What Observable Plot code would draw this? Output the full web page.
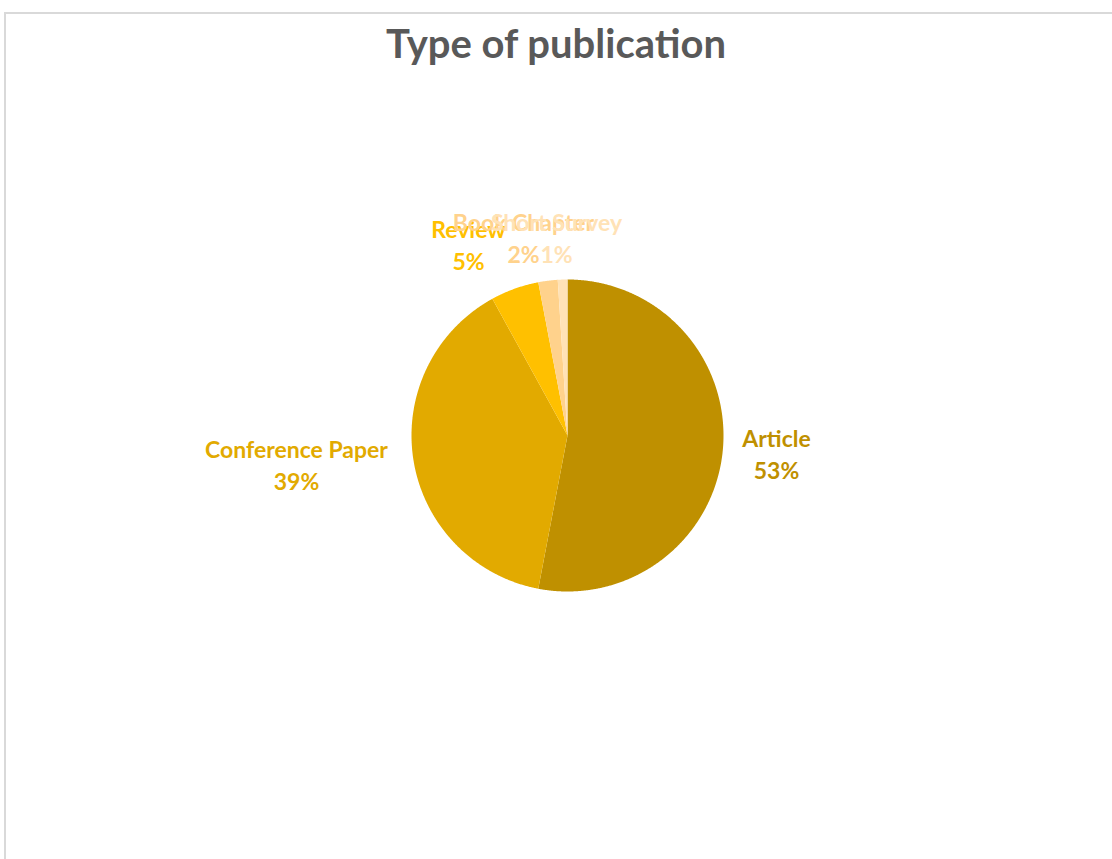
<!DOCTYPE html>
<html>
<head>
<meta charset="utf-8">
<script src="https://cdn.jsdelivr.net/npm/d3@7"></script>
<script src="https://cdn.jsdelivr.net/npm/@observablehq/plot@0.6"></script>
<style>
  html, body { margin: 0; padding: 0; background: #fff; overflow: hidden; }
  #wrap { position: relative; width: 1112px; height: 859px; }
  #frame { position: absolute; left: 4px; top: 12px; width: 1200px; height: 900px;
           border-top: 2px solid #d9d9d9; border-left: 2px solid #d9d9d9; box-sizing: border-box; }
  #title { position: absolute; left: 0; width: 1112px; top: 19px; text-align: center;
           font-family: Lato, "Open Sans", sans-serif; font-weight: bold; font-size: 40px; color: #595959; }
  svg { position: absolute; left: 0; top: 0; }
</style>
</head>
<body>
<div id="wrap">
  <div id="frame"></div>
  <div id="title">Type of publication</div>
</div>
<script>
// Data
const categories = ["Article", "Conference Paper", "Review", "Book Chapter", "Short Survey"];
const shares = [53, 39, 5, 2, 1];
const percentLabels = ["53%", "39%", "5%", "2%", "1%"];
const colors = ["#BF9000", "#E2AA00", "#FFC000", "#FFD28C", "#FFE2B6"];
// label anchor offsets from pie centre (layout, px)
const labelOffsets = [[209, 17], [-271, 28], [-99, -192], [-44, -199], [-11, -199]];

const R = 156;
const pie = d3.pie().sort(null).value(d => d.v)(categories.map((c, i) => ({c, v: shares[i]})));
const pts = [];
for (const a of pie) {
  pts.push({name: a.data.c, x: 0, y: 0});
  const n = Math.max(2, Math.ceil((a.endAngle - a.startAngle) / 0.005));
  for (let k = 0; k <= n; k++) {
    const t = a.startAngle + (a.endAngle - a.startAngle) * k / n;
    pts.push({name: a.data.c, x: R * Math.sin(t), y: -R * Math.cos(t)});
  }
  pts.push({name: a.data.c, x: 0, y: 0});
}
const labels = categories.map((c, i) => ({name: c, text: c + "\n" + percentLabels[i], x: labelOffsets[i][0], y: labelOffsets[i][1]}));

const chart = Plot.plot({
  width: 1112,
  height: 859,
  margin: 0,
  x: {domain: [-567, 545], range: [0, 1112], axis: null},
  y: {domain: [-435, 424], range: [0, 859], axis: null},
  color: {domain: categories, range: colors},
  style: {background: "transparent", overflow: "visible"},
  marks: [
    Plot.line(pts, {x: "x", y: "y", z: "name", fill: "name", stroke: null, curve: "linear"}),
    Plot.text(labels, {x: "x", y: "y", text: "text", fill: "name", fontSize: 23, fontWeight: "bold",
      fontFamily: "Lato, 'Open Sans', sans-serif", lineHeight: 1.4, textAnchor: "middle", lineAnchor: "middle"})
  ]
});
document.getElementById("wrap").appendChild(chart);
</script>
</body>
</html>
